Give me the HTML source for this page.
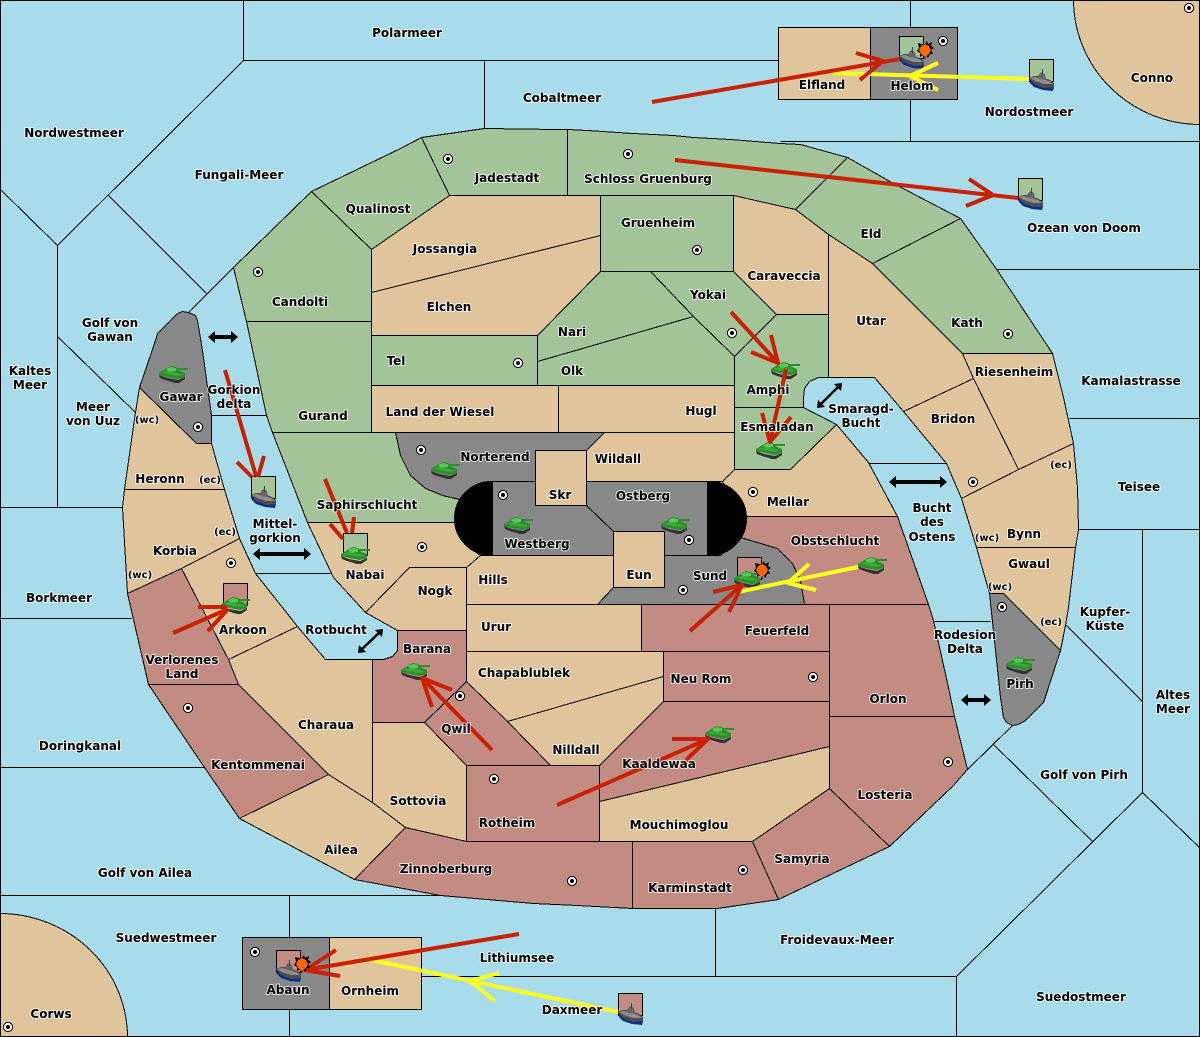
<!DOCTYPE html>
<html><head><meta charset="utf-8"><title>Map</title>
<style>
html,body{margin:0;padding:0;background:#a8dceb}
svg{display:block}
.c{shape-rendering:crispEdges}
.c polygon,.c rect,.c path{stroke:#000;stroke-width:1}
.s{fill:#a8dceb}.t{fill:#e0c49c}.g{fill:#a3c398}.r{fill:#c28c82}.k{fill:#888}
.l line{stroke:#000;stroke-width:1;fill:none}
text{font-family:"DejaVu Sans","Liberation Sans",sans-serif;font-weight:bold;font-size:12px;fill:#000;text-anchor:middle;paint-order:stroke;stroke:#fff;stroke-opacity:.75;stroke-width:2px;stroke-linejoin:round}
text.m{font-size:10px}
.red{stroke:#c82000;stroke-width:4;fill:none;stroke-linejoin:round}
.yel{stroke:#ffff20;stroke-width:4;fill:none;stroke-linejoin:round}
</style></head><body>
<svg xmlns="http://www.w3.org/2000/svg" width="1200" height="1037" viewBox="0 0 1200 1037">
<defs>
<symbol id="tank" width="30" height="18" viewBox="0 0 30 18" overflow="visible">
<rect x="17" y="2" width="12" height="2" fill="#2b8f2b"/>
<polygon points="0,7 5,4 8,2 12,0 17,1 19,4 26,7 26,11 19,13 8,11 0,9" fill="#2b8f2b"/>
<polygon points="7,3 12,1 17,2 17,5 10,6" fill="#58c858"/>
<polygon points="2,7 8,5 14,6 22,8 24,9 18,10 8,8" fill="#3aaa3a"/>
<polygon points="0,9 8,12 19,14 26,11 26,13 20,17 16,17 6,14 1,12" fill="#333"/>
</symbol>
<symbol id="ship" width="26" height="23" viewBox="0 0 26 23" overflow="visible">
<polygon points="0,10 1,14 5,18 14,21 24,22 25,18" fill="#0c2e86"/>
<polygon points="0,9 5,7 10,7 21,11 25,14 25,18 15,19 5,15" fill="#4e4e4e"/>
<polygon points="1,9 6,8 20,12 24,15 15,15 6,12" fill="#8e8e8e"/>
<polygon points="9,7 12,3 16,5 17,11 10,10" fill="#666"/>
<rect x="13" y="0" width="1" height="6" fill="#444"/>
</symbol>
<symbol id="boom" width="20" height="20" viewBox="-10 -10 20 20" overflow="visible">
<polygon points="0,-6 2,-9 3,-6 7,-8 6,-4 9,-2 6,0 8,4 5,4 3,8 1,5 0,10 -1,5 -5,7 -5,3 -8,1 -6,-2 -7,-7 -3,-6" fill="#000"/>
<polygon points="0,-6 4,-4 6,0 4,4 0,7 -4,4 -6,0 -4,-4" fill="#ff6a00"/>
</symbol>
<symbol id="sc" width="11" height="11" viewBox="-5.5 -5.5 11 11" overflow="visible">
<circle r="4.6" fill="#fff" stroke="#000"/><circle r="2" fill="#000"/>
</symbol>
</defs>

<rect x="0" y="0" width="1200" height="1037" fill="#a8dceb"/>

<g transform="translate(.5 .5)">
<g class="l" shape-rendering="crispEdges">
<line x1="243" y1="0" x2="243" y2="60"/><line x1="243" y1="60" x2="778" y2="60"/>
<line x1="484" y1="60" x2="484" y2="128"/><line x1="910" y1="0" x2="910" y2="141"/>
<line x1="780" y1="141" x2="1200" y2="141"/>
<line x1="243" y1="60" x2="57" y2="245"/><line x1="0" y1="189" x2="57" y2="245"/>
<line x1="57" y1="245" x2="57" y2="507"/><line x1="0" y1="507" x2="122" y2="507"/>
<line x1="108" y1="195" x2="206" y2="293"/><line x1="233" y1="267" x2="188" y2="312"/>
<line x1="57" y1="336" x2="135" y2="412"/>
<line x1="0" y1="618" x2="131" y2="618"/><line x1="0" y1="767" x2="204" y2="767"/>
<line x1="0" y1="895" x2="440" y2="895"/><line x1="289" y1="895" x2="289" y2="1037"/>
<line x1="421" y1="976" x2="956" y2="976"/><line x1="715" y1="908" x2="715" y2="976"/>
<line x1="956" y1="976" x2="956" y2="1037"/>
<line x1="956" y1="976" x2="1142" y2="792"/><line x1="1142" y1="792" x2="1200" y2="848"/>
<line x1="993" y1="744" x2="1092" y2="841"/><line x1="1012" y1="725" x2="967" y2="769"/>
<line x1="1142" y1="529" x2="1142" y2="792"/><line x1="1078" y1="529" x2="1200" y2="529"/>
<line x1="1069" y1="418" x2="1200" y2="418"/><line x1="997" y1="269" x2="1200" y2="269"/>
<line x1="1066" y1="625" x2="1142" y2="701"/>
<line x1="211" y1="415" x2="266" y2="415"/><line x1="255" y1="573" x2="331" y2="573"/>
<line x1="868" y1="463" x2="946" y2="463"/><line x1="933" y1="621" x2="990" y2="621"/>
</g>
<g class="c">
<path class="t" d="M1073 -1 A127 125 0 0 0 1200 124 L1200 -1Z"/>
<path class="t" d="M-1 913 A128 124 0 0 1 127 1037 L-1 1037Z"/>
<polygon class="g" points="233,267 311,191 371,249 371,321 246,321"/>
<polygon class="g" points="311,191 400,148 421,137 449,195 371,249"/>
<polygon class="g" points="421,137 484,128 557,129 567,129 567,195 449,195"/>
<polygon class="g" points="567,129 587,130 633,133 673,135 693,137 730,139 780,143 800,144 847,157 795,209 733,195 567,195"/>
<polygon class="g" points="847,157 893,183 960,218 872,263 828,234 795,209"/>
<polygon class="g" points="960,218 997,270 1052,353 962,353 917,308 872,263"/>
<polygon class="t" points="828,234 872,263 917,308 962,353 973,378 903,411 874,377 828,377"/>
<polygon class="t" points="733,195 795,209 828,234 828,314 776,314 733,271"/>
<rect class="g" x="600" y="195" width="133" height="76"/>
<polygon class="t" points="449,195 600,195 600,235 371,292 371,249"/>
<polygon class="t" points="371,292 600,235 600,271 537,335 371,335"/>
<polygon class="g" points="537,335 600,271 650,271 693,316 537,361"/>
<polygon class="g" points="537,361 693,316 734,356 734,385 537,385"/>
<polygon class="g" points="650,271 733,271 776,314 734,356 693,316"/>
<polygon class="g" points="776,314 828,314 828,377 818,377 809,381 804,388 803,397 803,407 734,407 734,356"/>
<polygon class="g" points="734,407 803,407 836,424 790,469 734,469"/>
<rect class="g" x="371" y="335" width="166" height="50"/>
<rect class="t" x="371" y="385" width="187" height="47"/>
<rect class="t" x="558" y="385" width="176" height="47"/>
<polygon class="g" points="246,321 371,321 371,432 272,432 266,415"/>
<polygon class="g" points="272,432 395,432 400,455 410,475 425,488 442,495 459,499 454,522 307,522"/>
<polygon class="k" points="395,432 604,432 586,450 535,450 535,481 493,481 459,499 442,495 425,488 410,475 400,455"/>
<polygon class="t" points="604,432 734,432 734,469 722,481 586,481 586,450"/>
<polygon class="t" points="734,469 790,469 836,424 868,462 897,516 740,516 722,481"/>
<polygon class="r" points="740,516 897,516 928,604 804,604 800,580 792,563 777,548 740,537"/>
<polygon class="k" points="664,555 720,555 740,537 777,548 792,563 800,580 804,604 597,604 613,587 664,587"/>
<rect class="k" x="492" y="481" width="215" height="74"/>
<line x1="586" y1="505" x2="613" y2="531" stroke="#000"/>
<rect class="t" x="535" y="450" width="51" height="55"/>
<rect class="t" x="613" y="531" width="51" height="56"/>
<polygon class="t" points="466,567 480,555 613,555 613,587 597,604 466,604"/>
<polygon class="t" points="307,522 454,522 458,535 466,545 480,555 466,567 409,567 365,612 333,577"/>
<polygon class="t" points="409,567 466,567 466,630 397,630 365,612"/>
<rect class="t" x="466" y="604" width="175" height="47"/>
<rect class="r" x="641" y="604" width="188" height="47"/>
<polygon class="t" points="466,651 663,651 663,676 507,721 466,681"/>
<polygon class="t" points="507,721 663,676 663,701 599,765 550,765"/>
<rect class="r" x="663" y="651" width="166" height="50"/>
<polygon class="r" points="663,701 829,701 829,746 599,801 599,765"/>
<polygon class="t" points="599,801 829,746 829,788 752,841 599,841"/>
<polygon class="r" points="829,604 928,604 933,620 948,687 954,716 829,716"/>
<polygon class="r" points="829,716 954,716 967,769 953,785 889,846 829,788"/>
<polygon class="r" points="829,788 889,846 778,899 752,841"/>
<polygon class="r" points="632,841 752,841 778,899 717,908 643,908 632,908"/>
<polygon class="r" points="354,879 405,827 467,841 632,841 632,908 613,907 577,905 533,903 440,895"/>
<rect class="r" x="466" y="765" width="133" height="76"/>
<polygon class="t" points="372,722 424,722 466,765 466,841 405,827 372,802"/>
<polygon class="t" points="239,818 328,774 372,802 405,827 354,879"/>
<polygon class="r" points="424,722 466,681 507,721 550,765 466,765"/>
<polygon class="r" points="372,659 383,659 392,656 397,650 397,630 466,630 466,681 424,722 372,722"/>
<polygon class="t" points="228,659 297,626 325,659 372,659 372,802 328,774 238,684"/>
<polygon class="t" points="181,568 239,538 255,573 297,626 228,659"/>
<polygon class="t" points="122,507 124,489 224,489 239,538 181,568 127,593"/>
<polygon class="t" points="139,387 196,443 211,443 224,489 124,489 135,412"/>
<polygon class="k" points="139,387 155,340 157,333 177,313 182,311 188,312 195,315 197,320 202,350 211,415 211,443 196,443"/>
<polygon class="r" points="127,593 181,568 228,659 238,684 148,684"/>
<polygon class="r" points="148,684 238,684 328,774 239,818 204,767"/>
<polygon class="t" points="962,353 1052,353 1063,397 1073,443 1018,469 973,378"/>
<polygon class="t" points="973,378 1018,469 961,498 946,463 903,411"/>
<polygon class="t" points="961,498 1018,469 1073,443 1077,487 1078,529 1075,547 976,547"/>
<polygon class="t" points="976,547 1075,547 1068,607 1065,625 1060,650 1003,593 989,593"/>
<polygon class="k" points="989,593 1003,593 1060,650 1047,690 1043,702 1025,720 1018,724 1012,725 1006,722 1003,717 1000,697 995,650"/>
<rect class="t" x="778" y="27" width="92" height="72"/>
<rect class="k" x="870" y="27" width="87" height="72"/>
<rect class="k" x="242" y="937" width="87" height="72"/>
<rect class="t" x="329" y="937" width="92" height="72"/>
<path d="M492 481 H491 A37 37 0 0 0 491 555 H492Z" fill="#000"/>
<path d="M707 481 H709 A37 37 0 0 1 709 555 H707Z" fill="#000"/>
<!-- flags -->
<rect class="g" x="899" y="36" width="24" height="22"/>
<rect class="g" x="1029" y="59" width="24" height="22"/>
<rect class="g" x="1018" y="178" width="24" height="22"/>
<rect class="g" x="251" y="476" width="24" height="22"/>
<rect class="g" x="343" y="533" width="24" height="22"/>
<rect class="r" x="223" y="583" width="24" height="22"/>
<rect class="r" x="737" y="557" width="24" height="22"/>
<rect class="r" x="276" y="950" width="24" height="22"/>
<rect class="r" x="618" y="993" width="24" height="22"/>
</g>
<rect x="0" y="0" width="1199" height="1036" fill="none" stroke="#000" shape-rendering="crispEdges"/>
</g>

<!-- supply centres -->
<use href="#sc" x="252.5" y="266.5"/><use href="#sc" x="442.5" y="153.5"/><use href="#sc" x="622.5" y="148.5"/>
<use href="#sc" x="691.5" y="244.5"/><use href="#sc" x="726.5" y="327.5"/><use href="#sc" x="937.5" y="35.5"/>
<use href="#sc" x="1183.5" y="2.5"/><use href="#sc" x="1002.5" y="328.5"/><use href="#sc" x="512.5" y="357.5"/>
<use href="#sc" x="415.5" y="444.5"/><use href="#sc" x="497.5" y="489.5"/><use href="#sc" x="747.5" y="486.5"/>
<use href="#sc" x="683.5" y="534.5"/><use href="#sc" x="677.5" y="584.5"/><use href="#sc" x="416.5" y="541.5"/>
<use href="#sc" x="192.5" y="421.5"/><use href="#sc" x="225.5" y="557.5"/><use href="#sc" x="454.5" y="690.5"/>
<use href="#sc" x="488.5" y="773.5"/><use href="#sc" x="182.5" y="702.5"/><use href="#sc" x="249.5" y="946.5"/>
<use href="#sc" x="2.5" y="1021.5"/><use href="#sc" x="566.5" y="875.5"/><use href="#sc" x="737.5" y="864.5"/>
<use href="#sc" x="807.5" y="671.5"/><use href="#sc" x="942.5" y="756.5"/><use href="#sc" x="967.5" y="476.5"/>
<use href="#sc" x="996.5" y="601.5"/>

<!-- units -->
<use href="#ship" x="899" y="47"/><use href="#ship" x="1029" y="69"/><use href="#ship" x="1018" y="188"/>
<use href="#ship" x="251" y="486"/><use href="#ship" x="276" y="960"/><use href="#ship" x="618" y="1003"/>
<use href="#tank" x="341" y="547"/><use href="#tank" x="221" y="597"/><use href="#tank" x="734" y="571"/>
<use href="#tank" x="159" y="366"/><use href="#tank" x="771" y="362"/><use href="#tank" x="756" y="442"/>
<use href="#tank" x="431" y="462"/><use href="#tank" x="504" y="517"/><use href="#tank" x="661" y="517"/>
<use href="#tank" x="858" y="557"/><use href="#tank" x="401" y="663"/><use href="#tank" x="705" y="726"/>
<use href="#tank" x="1006" y="657"/>

<!-- yellow arrows -->
<g class="yel">
<path d="M1029 79 L833 73 M938 63 L910 76 L938 90"/>
<path d="M858 567 L733 593 M809 564 L788 583 L816 590"/>
<path d="M618 1012 L367 959 M499 973 L470 981 L495 1001"/>
</g>
<!-- red arrows -->
<g class="red">
<path d="M652 102 L900 59 M856 53 L883 61 L860 80"/>
<path d="M675 160 L1018 198 M969 179 L993 195 L966 206"/>
<path d="M225 370 L256 476 M237 462 L252 477 M264 456 L258 477"/>
<path d="M325 479 L347 533 M330 524 L343 539 M354 517 L352 533"/>
<path d="M173 633 L228 609 M198 607 L227 607 M208 631 L228 609"/>
<path d="M690 631 L742 585 M713 592 L742 585 L729 612"/>
<path d="M731 312 L778 363 M751 352 L778 363 L771 335"/>
<path d="M786 369 L770 442 M762 413 L770 442 L791 417"/>
<path d="M492 750 L422 678 M432 707 L422 678 L452 690"/>
<path d="M557 805 L708 739 M672 739 L708 739 L686 760"/>
<path d="M519 934 L305 970 M336 950 L305 970 L340 976"/>
</g>
<!-- explosions -->
<use href="#boom" x="915" y="40"/><use href="#boom" x="752" y="560"/><use href="#boom" x="292" y="954"/>

<!-- convoy arrows -->
<g fill="#000" stroke="#000">
<path d="M212 337 H234" stroke-width="4"/><polygon stroke="none" points="208,337 215,331 215,343"/><polygon stroke="none" points="238,337 231,331 231,343"/>
<path d="M257 554 H307" stroke-width="4"/><polygon stroke="none" points="253,554 260,548 260,560"/><polygon stroke="none" points="311,554 304,548 304,560"/>
<path d="M893 482 H943" stroke-width="4"/><polygon stroke="none" points="889,482 896,476 896,488"/><polygon stroke="none" points="947,482 940,476 940,488"/>
<path d="M965 700 H987" stroke-width="4"/><polygon stroke="none" points="961,700 968,694 968,706"/><polygon stroke="none" points="991,700 984,694 984,706"/>
<path d="M361 650 L380 632" stroke-width="2.5" fill="none"/><polygon stroke="none" points="358,653 359,645 366,652"/><polygon stroke="none" points="383,629 375,630 382,637"/>
<path d="M820 405 L839 386" stroke-width="2.5" fill="none"/><polygon stroke="none" points="817,408 818,400 825,407"/><polygon stroke="none" points="842,383 834,384 841,391"/>
</g>

<!-- labels -->
<text x="407" y="37">Polarmeer</text><text x="74" y="137">Nordwestmeer</text><text x="239" y="179">Fungali-Meer</text>
<text x="562" y="102">Cobaltmeer</text><text x="1152" y="82">Conno</text><text x="822" y="89">Elfland</text>
<text x="912" y="90">Helom</text><text x="1029" y="116">Nordostmeer</text><text x="1084" y="232">Ozean von Doom</text>
<text x="378" y="213">Qualinost</text><text x="507" y="182">Jadestadt</text><text x="648" y="183">Schloss Gruenburg</text>
<text x="658" y="227">Gruenheim</text><text x="871" y="238">Eld</text><text x="784" y="280">Caraveccia</text>
<text x="445" y="253">Jossangia</text><text x="449" y="311">Elchen</text><text x="300" y="306">Candolti</text>
<text x="708" y="299">Yokai</text><text x="572" y="336">Nari</text><text x="871" y="325">Utar</text>
<text x="967" y="327">Kath</text><text x="1014" y="376">Riesenheim</text><text x="1131" y="385">Kamalastrasse</text>
<text x="110" y="327">Golf von</text><text x="110" y="341">Gawan</text>
<text x="30" y="375">Kaltes</text><text x="30" y="389">Meer</text>
<text x="93" y="411">Meer</text><text x="93" y="425">von Uuz</text>
<text x="181" y="401">Gawar</text><text x="234" y="394">Gorkion</text><text x="234" y="408">delta</text>
<text class="m" x="147" y="423">(wc)</text><text x="160" y="483">Heronn</text><text class="m" x="210" y="483">(ec)</text>
<text x="323" y="420">Gurand</text><text x="396" y="365">Tel</text><text x="440" y="416">Land der Wiesel</text>
<text x="572" y="375">Olk</text><text x="701" y="415">Hugl</text><text x="768" y="394">Amphi</text>
<text x="777" y="431">Esmaladan</text><text x="861" y="413">Smaragd-</text><text x="861" y="427">Bucht</text>
<text x="953" y="423">Bridon</text><text x="1139" y="491">Teisee</text><text x="495" y="461">Norterend</text>
<text x="618" y="463">Wildall</text><text x="560" y="499">Skr</text><text x="643" y="500">Ostberg</text>
<text x="788" y="506">Mellar</text><text x="367" y="509">Saphirschlucht</text><text class="m" x="1061" y="468">(ec)</text>
<text x="932" y="512">Bucht</text><text x="932" y="526">des</text><text x="932" y="541">Ostens</text>
<text x="1024" y="538">Bynn</text><text class="m" x="987" y="541">(wc)</text><text x="537" y="548">Westberg</text>
<text x="275" y="528">Mittel-</text><text x="275" y="542">gorkion</text><text x="175" y="555">Korbia</text>
<text class="m" x="225" y="535">(ec)</text><text class="m" x="140" y="578">(wc)</text><text x="835" y="545">Obstschlucht</text>
<text x="639" y="579">Eun</text><text x="710" y="580">Sund</text><text x="493" y="584">Hills</text>
<text x="365" y="579">Nabai</text><text x="1029" y="568">Gwaul</text><text class="m" x="1000" y="590">(wc)</text>
<text x="435" y="595">Nogk</text><text x="59" y="602">Borkmeer</text><text x="1105" y="616">Kupfer-</text><text x="1105" y="630">Küste</text>
<text class="m" x="1051" y="625">(ec)</text><text x="496" y="631">Urur</text><text x="777" y="635">Feuerfeld</text>
<text x="336" y="634">Rotbucht</text><text x="243" y="634">Arkoon</text><text x="965" y="639">Rodesion</text><text x="965" y="653">Delta</text>
<text x="427" y="653">Barana</text><text x="524" y="677">Chapablublek</text><text x="182" y="664">Verlorenes</text><text x="182" y="678">Land</text>
<text x="701" y="683">Neu Rom</text><text x="1020" y="688">Pirh</text><text x="1173" y="699">Altes</text><text x="1173" y="713">Meer</text>
<text x="888" y="703">Orlon</text><text x="326" y="729">Charaua</text><text x="456" y="733">Qwil</text>
<text x="80" y="750">Doringkanal</text><text x="576" y="754">Nilldall</text><text x="659" y="768">Kaaldewaa</text>
<text x="258" y="769">Kentommenai</text><text x="1084" y="779">Golf von Pirh</text><text x="885" y="799">Losteria</text>
<text x="418" y="805">Sottovia</text><text x="507" y="827">Rotheim</text><text x="679" y="829">Mouchimoglou</text>
<text x="341" y="854">Ailea</text><text x="802" y="863">Samyria</text><text x="446" y="873">Zinnoberburg</text>
<text x="145" y="877">Golf von Ailea</text><text x="690" y="892">Karminstadt</text><text x="166" y="942">Suedwestmeer</text>
<text x="837" y="944">Froidevaux-Meer</text><text x="517" y="962">Lithiumsee</text><text x="288" y="994">Abaun</text>
<text x="370" y="995">Ornheim</text><text x="1081" y="1001">Suedostmeer</text><text x="572" y="1014">Daxmeer</text>
<text x="51" y="1018">Corws</text>
</svg>
</body></html>
